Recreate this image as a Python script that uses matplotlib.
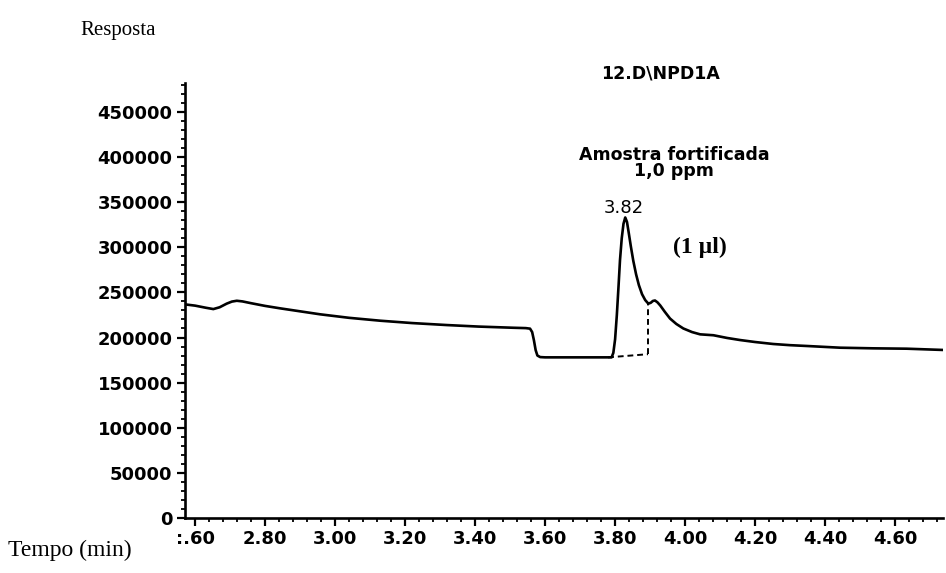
import matplotlib
matplotlib.use("Agg")
import matplotlib.pyplot as plt
from matplotlib.ticker import MultipleLocator, FixedLocator, FixedFormatter

# --- data ---
time_min = [2.571, 2.60, 2.63, 2.652, 2.67, 2.69, 2.705, 2.719, 2.735, 2.76,
            2.80, 2.843, 2.90, 2.957, 3.04, 3.129, 3.22, 3.319, 3.41, 3.509,
            3.545, 3.557, 3.563, 3.568, 3.573, 3.578, 3.586, 3.60, 3.65, 3.72,
            3.79, 3.795, 3.800, 3.805, 3.810, 3.814, 3.819, 3.824, 3.829, 3.834,
            3.839, 3.845, 3.852, 3.860, 3.868, 3.877, 3.886, 3.895, 3.902, 3.908,
            3.914, 3.921, 3.929, 3.942, 3.957, 3.975, 3.995, 4.02, 4.043, 4.081,
            4.12, 4.157, 4.20, 4.252, 4.30, 4.348, 4.443, 4.538, 4.633, 4.737]
response = [236700, 235300, 233000, 231500, 233500, 237500, 239800, 240700, 240000, 238000,
            235000, 232300, 229000, 225700, 221800, 218600, 216000, 213800, 212100, 210800,
            210400, 209800, 206000, 197000, 186000, 180000, 178300, 178000, 178000, 178000,
            178000, 183000, 198000, 225000, 258000, 285700, 310000, 326000, 333000, 328000,
            316000, 301000, 285000, 270000, 258000, 248000, 241500, 237500, 238500, 240500,
            241000, 239000, 235500, 228500, 221000, 215000, 210000, 206000, 203500, 202500,
            199500, 197200, 195000, 192800, 191500, 190600, 188700, 188000, 187600, 186200]

# integration baseline (dashed)
base_t = [3.78, 3.894]
base_y = [178000, 181500]
drop_t = [3.894, 3.894]
drop_y = [181500, 237000]

x_ticks = [2.60, 2.80, 3.00, 3.20, 3.40, 3.60, 3.80, 4.00, 4.20, 4.40, 4.60]
x_tick_labels = [":.60", "2.80", "3.00", "3.20", "3.40", "3.60", "3.80", "4.00", "4.20", "4.40", "4.60"]
y_ticks = [0, 50000, 100000, 150000, 200000, 250000, 300000, 350000, 400000, 450000]

fig = plt.figure(figsize=(9.46, 5.73), dpi=100)
ax = fig.add_axes([185/946, 1-518/573, (943-185)/946, (518-83)/573])

ax.plot(time_min, response, color="black", lw=1.9, solid_joinstyle="round",
        solid_capstyle="round")
ax.plot(base_t, base_y, color="black", lw=1.4, ls=(0, (3, 2)))
ax.plot(drop_t, drop_y, color="black", lw=1.4, ls=(0, (3, 2)))

ax.set_xlim(2.571, 4.737)
ax.set_ylim(0, 482000)

for s in ["top", "right"]:
    ax.spines[s].set_visible(False)
for s in ["left", "bottom"]:
    ax.spines[s].set_linewidth(1.9)

ax.xaxis.set_major_locator(FixedLocator(x_ticks))
ax.xaxis.set_major_formatter(FixedFormatter(x_tick_labels))
ax.xaxis.set_minor_locator(MultipleLocator(0.04))
ax.yaxis.set_major_locator(FixedLocator(y_ticks))
ax.yaxis.set_major_formatter(FixedFormatter([str(v) for v in y_ticks]))
ax.yaxis.set_minor_locator(MultipleLocator(10000))

ax.tick_params(axis="both", which="major", direction="out", length=6, width=1.6,
               labelsize=13, pad=3)
ax.tick_params(axis="both", which="minor", direction="out", length=3, width=1.3)
for lab in ax.get_xticklabels() + ax.get_yticklabels():
    lab.set_fontweight("bold")
    lab.set_family("DejaVu Sans")

fig.text(80/946, 1-30/573, "Resposta", family="Liberation Serif", fontsize=15,
         ha="left", va="center")
fig.text(8/946, 1-550/573, "Tempo (min)", family="Liberation Serif", fontsize=17,
         ha="left", va="center")
fig.text(660/946, 1-74/573, "12.D\\NPD1A", family="DejaVu Sans", fontweight="bold",
         fontsize=12.5, ha="center", va="center")

ax.text(3.969, 393500, "Amostra fortificada\n1,0 ppm", family="DejaVu Sans",
        fontweight="bold", fontsize=12.5, ha="center", va="center",
        multialignment="center", linespacing=0.85)
ax.text(3.826, 343000, "3.82", family="DejaVu Sans", fontsize=13,
        ha="center", va="center")
ax.text(4.043, 300000, "(1 µl)", family="Liberation Serif", fontweight="bold",
        fontsize=17, ha="center", va="center")

fig.savefig("out.png", dpi=100)
